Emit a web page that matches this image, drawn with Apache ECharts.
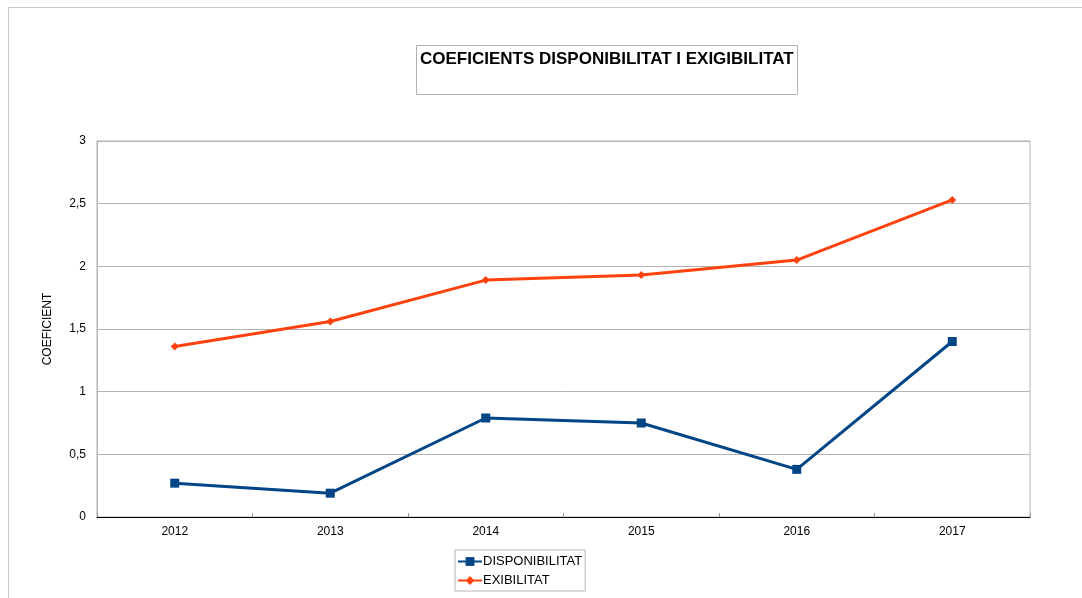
<!DOCTYPE html>
<html>
<head>
<meta charset="utf-8">
<script src="https://cdn.jsdelivr.net/npm/echarts@6/dist/echarts.min.js"></script>
<style>
  html, body { margin: 0; padding: 0; background: #fff; }
  #chart { width: 1082px; height: 598px; }
</style>
</head>
<body>
<div id="chart"></div>
<script>
// Years on the category axis
const years = ['2012', '2013', '2014', '2015', '2016', '2017'];
// Ratio values per year
const disponibilitat = [0.27, 0.19, 0.79, 0.75, 0.38, 1.40];
const exigibilitat = [1.36, 1.56, 1.89, 1.93, 2.05, 2.53];
// Value axis ticks
const yTicks = [0, 0.5, 1, 1.5, 2, 2.5, 3];

const chart = echarts.init(document.getElementById('chart'), null, { renderer: 'canvas' });
const font = '"Liberation Sans", Arial, sans-serif';

chart.setOption({
  animation: false,
  textStyle: { fontFamily: font },
  graphic: [
    // outer frame lines (top and left)
    { type: 'line', shape: { x1: 8.5, y1: 7.5, x2: 1082, y2: 7.5 }, style: { stroke: '#c8c8c8', lineWidth: 1 } },
    { type: 'line', shape: { x1: 8.5, y1: 7.5, x2: 8.5, y2: 598 }, style: { stroke: '#c8c8c8', lineWidth: 1 } },
    // title frame
    { type: 'rect', shape: { x: 416.5, y: 45.5, width: 381, height: 49 }, style: { fill: 'none', stroke: '#b3b3b3', lineWidth: 1 } }
  ],
  title: {
    text: 'COEFICIENTS DISPONIBILITAT I EXIGIBILITAT',
    left: 420,
    top: 51,
    padding: 0,
    textStyle: { fontFamily: font, fontSize: 17, fontWeight: 'bold', color: '#000' }
  },
  legend: {
    orient: 'vertical',
    left: 455,
    top: 550,
    padding: [5, 3, 4, 2],
    itemGap: 6,
    itemWidth: 24,
    itemHeight: 11,
    borderColor: '#b3b3b3',
    borderWidth: 1,
    borderRadius: 0,
    textStyle: { fontFamily: font, fontSize: 13, color: '#000', padding: [0, 0, 0, -4] },
    data: ['DISPONIBILITAT', 'EXIBILITAT']
  },
  grid: {
    left: 97, right: 52, top: 141, bottom: 81,
    show: true, borderColor: '#b3b3b3', borderWidth: 1,
    containLabel: false
  },
  xAxis: {
    type: 'category',
    data: years,
    boundaryGap: true,
    axisLine: { show: true, lineStyle: { color: '#000', width: 1 } },
    axisTick: { show: true, inside: true, length: 4, lineStyle: { color: '#999' } },
    axisLabel: { color: '#000', fontSize: 12, margin: 9 }
  },
  yAxis: {
    type: 'value',
    min: 0, max: 3, interval: 0.5,
    name: 'COEFICIENT',
    nameLocation: 'middle',
    nameGap: 43,
    nameTextStyle: { fontFamily: font, fontSize: 12, color: '#000' },
    axisLine: { show: true, lineStyle: { color: '#b3b3b3' } },
    axisTick: { show: false },
    axisLabel: {
      color: '#000', fontSize: 12, margin: 11,
      formatter: v => yTicks.includes(v) ? String(v).replace('.', ',') : ''
    },
    splitLine: { show: true, lineStyle: { color: '#b3b3b3', width: 1 } }
  },
  series: [
    {
      name: 'DISPONIBILITAT',
      type: 'line',
      data: disponibilitat,
      symbol: 'rect',
      symbolSize: 9,
      lineStyle: { color: '#004586', width: 3 },
      itemStyle: { color: '#004586' }
    },
    {
      name: 'EXIBILITAT',
      type: 'line',
      data: exigibilitat,
      symbol: 'diamond',
      symbolSize: 8,
      lineStyle: { color: '#ff420e', width: 3 },
      itemStyle: { color: '#ff420e' }
    }
  ]
});
</script>
</body>
</html>
